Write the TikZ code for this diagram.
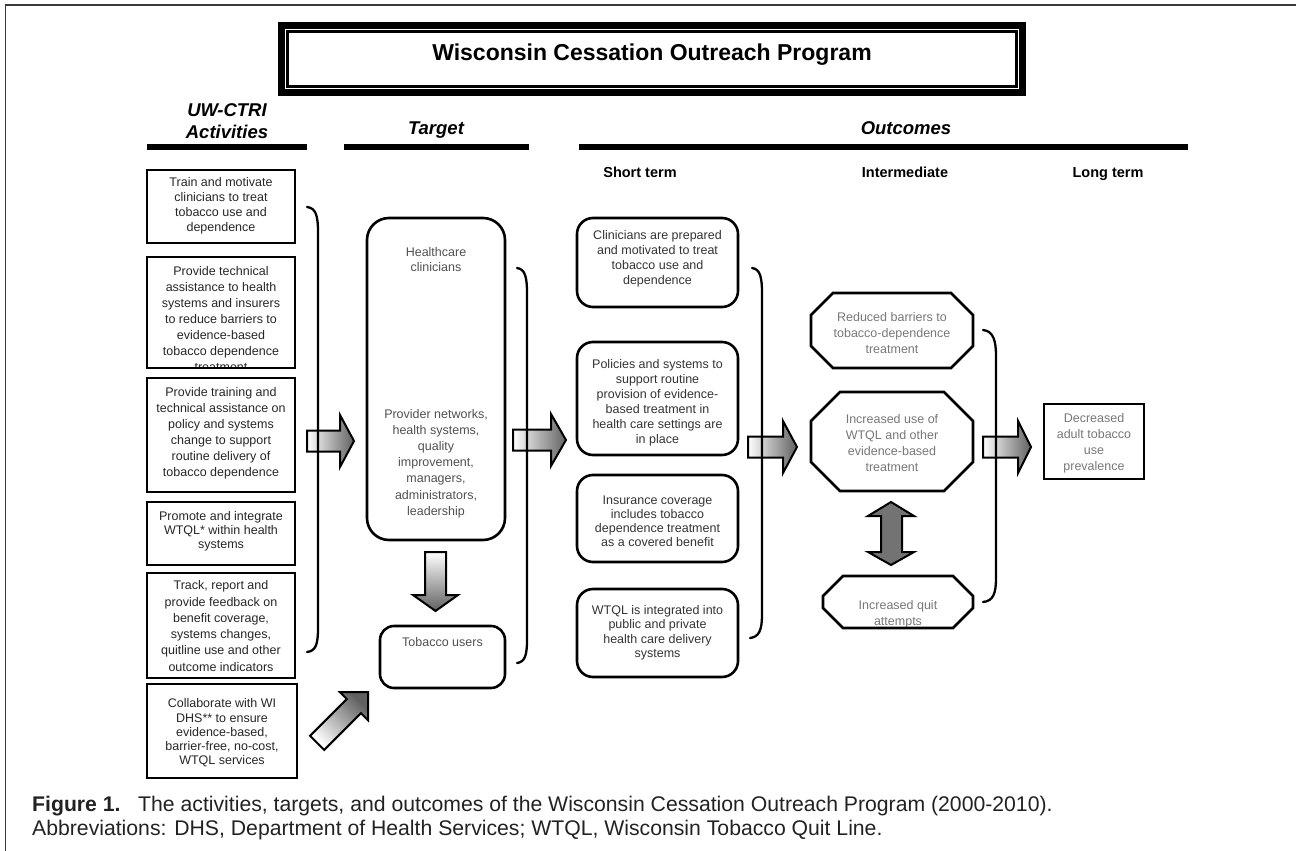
\documentclass[tikz,border=0pt]{standalone}
\usepackage{fontspec}
\setmainfont{Liberation Sans}
\definecolor{actc}{HTML}{262626}
\definecolor{tgtc}{HTML}{505050}
\definecolor{stc}{HTML}{333333}
\definecolor{imc}{HTML}{777777}
\definecolor{framec}{HTML}{3A3A3A}
\definecolor{capc}{HTML}{222222}
\newcommand\RArrowWCO[4]{\draw[barrow] (#1,#4-10.5) -- (#2,#4-10.5) -- (#2,#4-26) -- (#3,#4) -- (#2,#4+26) -- (#2,#4+10.5) -- (#1,#4+10.5) -- cycle;}
\newcommand\OctPathWCO[5]{(#1+#5,#2) -- (#3-#5,#2) -- (#3,#2+#5) -- (#3,#4-#5) -- (#3-#5,#4) -- (#1+#5,#4) -- (#1,#4-#5) -- (#1,#2+#5) -- cycle}
\tikzset{
  boxline/.style={draw=black, line width=2.6pt, line join=miter},
  actbox/.style={boxline, rectangle, inner sep=0pt},
  rbox/.style={boxline, rectangle, rounded corners=#1, inner sep=0pt},
  boxtxt/.style={align=center, inner sep=0pt, font=\fontsize{12.5}{#1}\selectfont},
  boxtxt/.default=15.5,
  hdr/.style={align=center, inner sep=0pt, anchor=base, font=\fontsize{18.5}{21}\selectfont\bfseries\itshape},
  subhdr/.style={inner sep=0pt, anchor=base, font=\fontsize{14.5}{17}\selectfont\bfseries},
  hline/.style={line width=5.5pt},
  brk/.style={line width=2.3pt, line cap=round},
  barrow/.style={draw=black, line width=2pt, line join=miter, left color=white, right color=black!62},
  captxt/.style={anchor=base west, inner sep=0pt, font=\fontsize{21.2}{24}\selectfont, text=capc},
}
\begin{document}
\begin{tikzpicture}[x=1pt, y=-1pt]
\useasboundingbox (0,0) rectangle (1296,851);

% outer frame
\draw[framec, line width=1.6pt] (5.5,851) -- (5.5,5) -- (1296,5);

% title box
\fill[black] (278,22) rectangle (1026,96);
\draw[white, line width=1.2pt] (285.5,29.5) rectangle (1018.5,88.5);
\fill[white] (289,33) rectangle (1015,85);
\node[inner sep=0pt, font=\fontsize{23}{26}\selectfont\bfseries] (title) at (652,55) {Wisconsin Cessation Outreach Program};

% column headers
\node[hdr] (hUW) at (227,116.5) {UW-CTRI};
\node[hdr] (hAct) at (227,138) {Activities};
\node[hdr] (hTarget) at (436,134.5) {Target};
\node[hdr] (hOut) at (906,134.5) {Outcomes};
\draw[hline] (147,147) -- (307,147);
\draw[hline] (344,147) -- (529,147);
\draw[hline] (579,147) -- (1188,147);
\node[subhdr] (hShort) at (640,177.5) {Short term};
\node[subhdr] (hInter) at (905,177.5) {Intermediate};
\node[subhdr] (hLong) at (1108,177.5) {Long term};

% block arrows (under the brackets)
\RArrowWCO{307}{340}{354}{441}
\RArrowWCO{513}{551}{566}{440}
\RArrowWCO{748}{783}{797}{447}
\RArrowWCO{983}{1018}{1031}{447}
% down arrow
\draw[draw=black, line width=2pt, line join=miter, top color=white, bottom color=black!62]
  (425,552) -- (446,552) -- (446,595) -- (458,595) -- (435.5,611) -- (413,595) -- (425,595) -- cycle;
% double arrow
\draw[draw=black, line width=2pt, line join=miter, top color=black!55, middle color=white, bottom color=black!55]
  (881,516) -- (868,516) -- (891,502) -- (914,516) -- (902,516) -- (902,552) -- (914,552) -- (891,565) -- (868,552) -- (881,552) -- cycle;
% diagonal arrow
\draw[draw=black, line width=2pt, line join=miter, top color=white, bottom color=black!62, shading angle=135]
  (310.02,735.84) -- (346.79,699.07) -- (339.72,692) -- (368,692) -- (368,720.28) -- (360.93,713.21) -- (324.16,749.98) -- cycle;

% activity boxes
\node[actbox, minimum width=148, minimum height=73] (a1) at (221,206.5) {};
\node[boxtxt=15, text=actc] (a1t) at (221,206) {Train and motivate\\clinicians to treat\\tobacco use and\\dependence};

\begin{scope}
  \clip (148.5,258.5) rectangle (293.5,366.3);
  \node[boxtxt=16, text=actc] (a2t) at (221,319.5) {Provide technical\\assistance to health\\systems and insurers\\to reduce barriers to\\evidence-based\\tobacco dependence\\treatment};
\end{scope}
\node[actbox, minimum width=148, minimum height=111] (a2) at (221,312.5) {};

\node[actbox, minimum width=148, minimum height=114] (a3) at (221,435) {};
\node[boxtxt=16, text=actc] (a3t) at (221,433) {Provide training and\\technical assistance on\\policy and systems\\change to support\\routine delivery of\\tobacco dependence};

\node[actbox, minimum width=148, minimum height=63] (a4) at (221,533.5) {};
\node[boxtxt=14, text=actc] (a4t) at (221,531) {Promote and integrate\\WTQL* within health\\systems};

\node[actbox, minimum width=148, minimum height=105] (a5) at (221,625.5) {};
\node[boxtxt=16.3, text=actc] (a5t) at (221,626) {Track, report and\\provide feedback on\\benefit coverage,\\systems changes,\\quitline use and other\\outcome indicators};

\node[actbox, minimum width=150, minimum height=94] (a6) at (222,731) {};
\node[boxtxt=14.3, text=actc] (a6t) at (222,733) {Collaborate with WI\\DHS** to ensure\\evidence-based,\\barrier-free, no-cost,\\WTQL services};

% target boxes
\node[rbox=22, minimum width=138, minimum height=322] (t1) at (436,379) {};
\node[boxtxt=15, text=tgtc] (t1a) at (436,259.5) {Healthcare\\clinicians};
\node[boxtxt=16.2, text=tgtc] (t1b) at (436,463.5) {Provider networks,\\health systems,\\quality\\improvement,\\managers,\\administrators,\\leadership};
\node[rbox=14, minimum width=125, minimum height=62] (t2) at (442.5,657) {};
\node[boxtxt, text=tgtc] (t2t) at (442.5,642) {Tobacco users};

% short-term boxes
\node[rbox=16, minimum width=161, minimum height=89] (s1) at (657.5,262.5) {};
\node[boxtxt=15, text=stc] (s1t) at (657.5,259) {Clinicians are prepared\\and motivated to treat\\tobacco use and\\dependence};
\node[rbox=16, minimum width=161, minimum height=113] (s2) at (657.5,398.5) {};
\node[boxtxt=15, text=stc] (s2t) at (657.5,403) {Policies and systems to\\support routine\\provision of evidence-\\based treatment in\\health care settings are\\in place};
\node[rbox=16, minimum width=161, minimum height=87] (s3) at (657.5,518.5) {};
\node[boxtxt=14, text=stc] (s3t) at (657.5,521) {Insurance coverage\\includes tobacco\\dependence treatment\\as a covered benefit};
\node[rbox=16, minimum width=161, minimum height=88] (s4) at (657.5,633) {};
\node[boxtxt=14.5, text=stc] (s4t) at (657.5,633) {WTQL is integrated into\\public and private\\health care delivery\\systems};

% intermediate octagons
\draw[boxline] \OctPathWCO{811}{293}{973}{368}{22};
\node[boxtxt=16, text=imc] (o1t) at (892,333) {Reduced barriers to\\tobacco-dependence\\treatment};
\draw[boxline] \OctPathWCO{811}{392}{973}{491}{29};
\node[boxtxt=16, text=imc] (o2t) at (892,443) {Increased use of\\WTQL and other\\evidence-based\\treatment};
\begin{scope}
  \clip \OctPathWCO{823}{576}{973}{628}{20};
  \node[boxtxt=16, text=imc] (o3t) at (898,614) {Increased quit\\attempts};
\end{scope}
\draw[boxline] \OctPathWCO{823}{576}{973}{628}{20};

% long-term box
\node[actbox, minimum width=100, minimum height=75] (l1) at (1094,441.5) {};
\node[boxtxt=16, text=imc] (l1t) at (1094,443) {Decreased\\adult tobacco\\use\\prevalence};

% brackets
\draw[brk] (307,207) .. controls (316,208) and (318,216) .. (318,232) -- (318,628) .. controls (318,644) and (316,651) .. (307,652);
\draw[brk] (517,268) .. controls (525,269) and (527,277) .. (527,293) -- (527,640) .. controls (527,655) and (525,662) .. (517,663);
\draw[brk] (752,268) .. controls (760,269) and (762,277) .. (762,293) -- (762,615) .. controls (762,630) and (759,637) .. (750,638);
\draw[brk] (983,330) .. controls (993,331) and (996,340) .. (996,356) -- (996,578) .. controls (996,594) and (993,601) .. (983,602);

% caption
\node[captxt] (cap1) at (32,811) {\textbf{Figure 1.}\ \ \ The activities, targets, and outcomes of the Wisconsin Cessation Outreach Program (2000-2010).};
\node[captxt] (cap2) at (32,835) {Abbreviations: DHS, Department of Health Services; WTQL, Wisconsin Tobacco Quit Line.};
\end{tikzpicture}
\end{document}
